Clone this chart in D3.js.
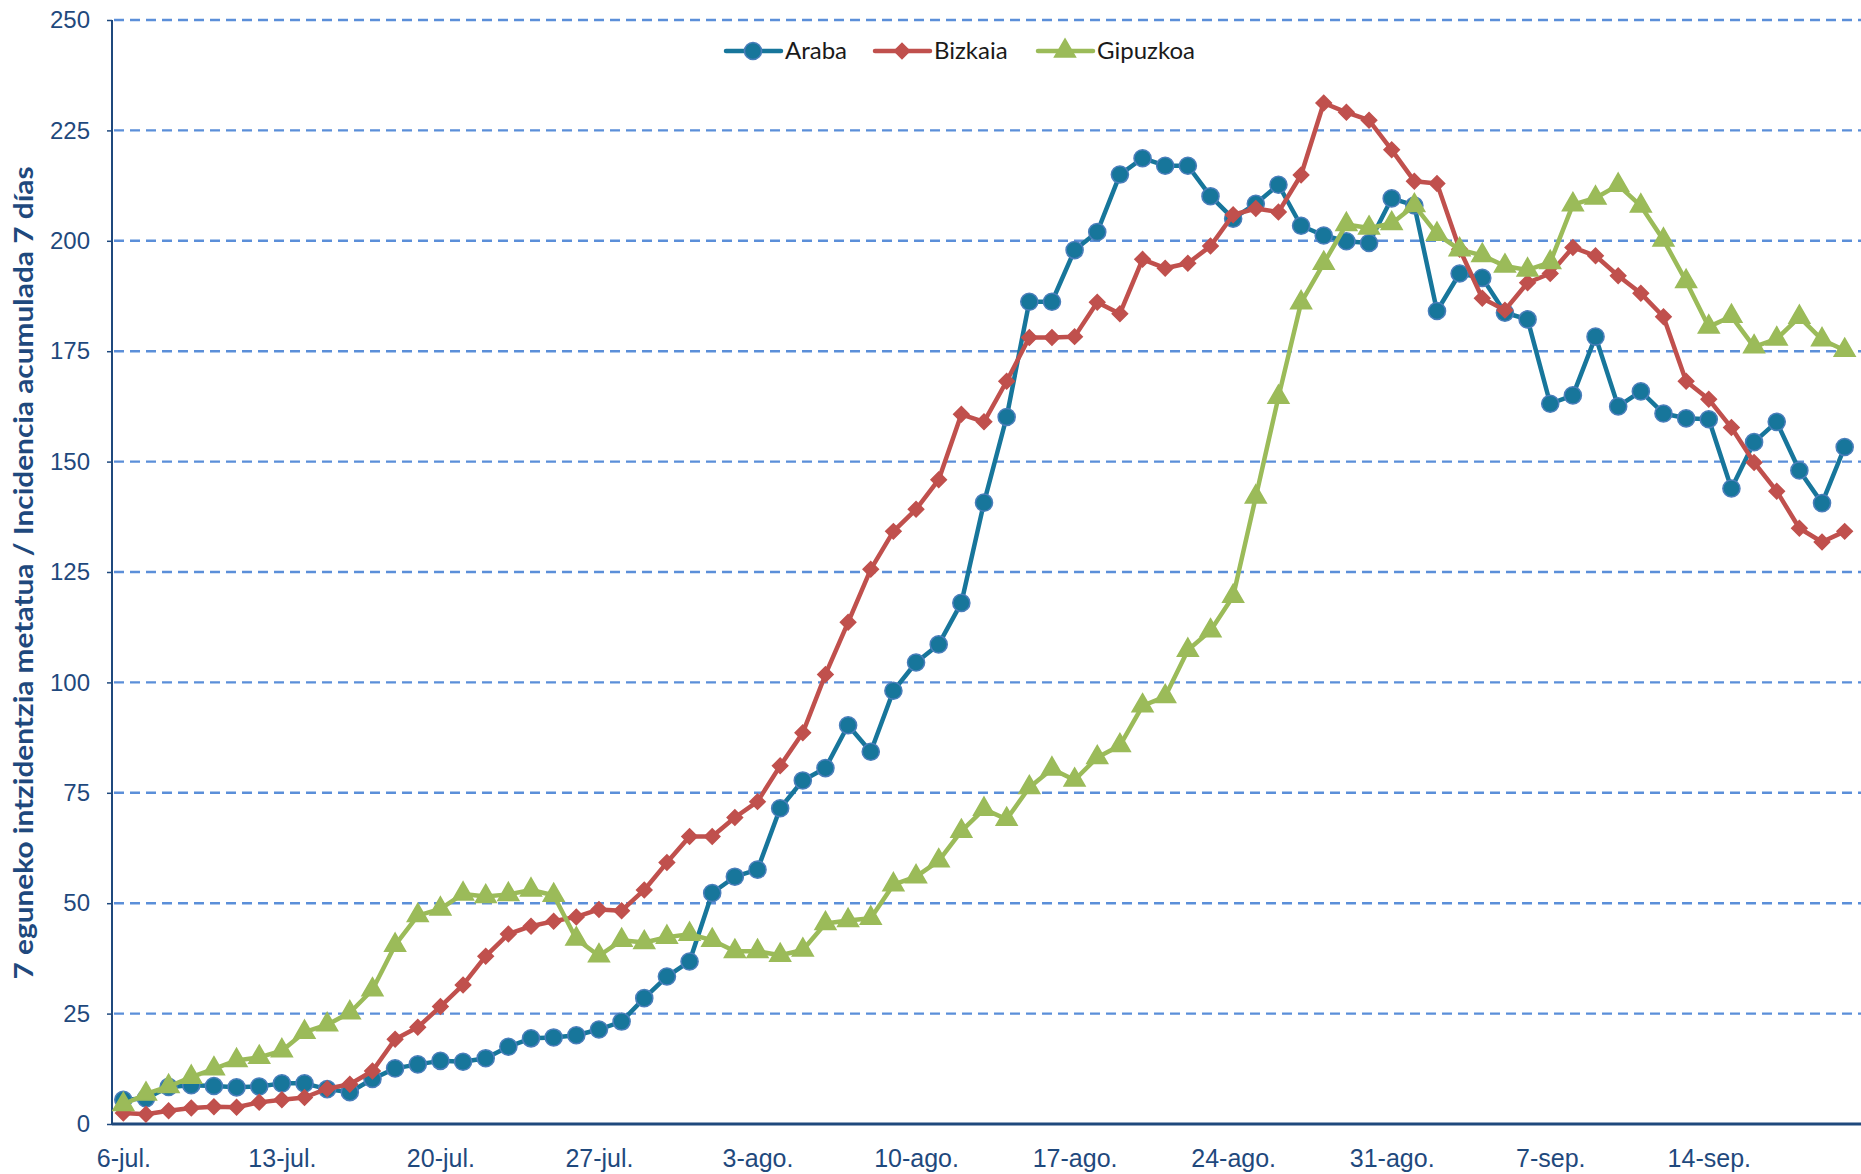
<!DOCTYPE html>
<html>
<head>
<meta charset="utf-8">
<script src="https://cdnjs.cloudflare.com/ajax/libs/d3/7.8.5/d3.min.js"></script>
<style>
	body { margin: 0; background: #fff; }
	svg { display: block; font-family: Lato, "Open Sans", sans-serif; }
</style>
</head>
<body>
<div id="chart"></div>
<script>

// one category per day, 6 July to 20 September
var categories = [
	'6-jul.','7-jul.','8-jul.','9-jul.','10-jul.','11-jul.','12-jul.','13-jul.','14-jul.','15-jul.',
	'16-jul.','17-jul.','18-jul.','19-jul.','20-jul.','21-jul.','22-jul.','23-jul.','24-jul.','25-jul.',
	'26-jul.','27-jul.','28-jul.','29-jul.','30-jul.','31-jul.','1-ago.','2-ago.','3-ago.','4-ago.',
	'5-ago.','6-ago.','7-ago.','8-ago.','9-ago.','10-ago.','11-ago.','12-ago.','13-ago.','14-ago.',
	'15-ago.','16-ago.','17-ago.','18-ago.','19-ago.','20-ago.','21-ago.','22-ago.','23-ago.','24-ago.',
	'25-ago.','26-ago.','27-ago.','28-ago.','29-ago.','30-ago.','31-ago.','1-sep.','2-sep.','3-sep.',
	'4-sep.','5-sep.','6-sep.','7-sep.','8-sep.','9-sep.','10-sep.','11-sep.','12-sep.','13-sep.',
	'14-sep.','15-sep.','16-sep.','17-sep.','18-sep.','19-sep.','20-sep.'
];

var tickLabels = ['6-jul.','13-jul.','20-jul.','27-jul.','3-ago.','10-ago.','17-ago.','24-ago.','31-ago.','7-sep.','14-sep.'];

var yTicks = [0, 25, 50, 75, 100, 125, 150, 175, 200, 225, 250];

var araba = [
	5.5, 5.8, 8.4, 8.8, 8.6, 8.3, 8.5, 9.2, 9.2, 7.9,
	7.2, 10.2, 12.6, 13.5, 14.3, 14.1, 14.9, 17.5, 19.4, 19.6,
	20.1, 21.4, 23.2, 28.5, 33.4, 36.8, 52.3, 56, 57.6, 71.5,
	77.8, 80.6, 90.3, 84.3, 98.1, 104.5, 108.6, 118, 140.7, 160.1,
	186.2, 186.2, 197.9, 202, 215, 218.7, 217, 217, 210.1, 205,
	208.4, 212.7, 203.4, 201.2, 199.9, 199.5, 209.6, 208, 184.1, 192.6,
	191.6, 183.7, 182.2, 163.1, 165, 178.3, 162.5, 165.9, 160.9, 159.8,
	159.6, 143.9, 154.4, 159, 148, 140.6, 153.3
];

var bizkaia = [
	2.5, 2.2, 3, 3.6, 3.9, 3.8, 4.9, 5.5, 6, 8,
	9, 12, 19.2, 21.9, 26.6, 31.5, 38, 43, 44.8, 45.9,
	46.9, 48.6, 48.3, 53, 59.2, 65.1, 65.1, 69.4, 73, 81.1,
	88.6, 101.8, 113.6, 125.6, 134.2, 139.2, 145.9, 160.7, 159, 168.2,
	178.1, 178.1, 178.3, 186.1, 183.5, 195.8, 193.8, 194.9, 198.8, 205.9,
	207.3, 206.5, 214.9, 231.2, 229.1, 227.3, 220.6, 213.5, 213, 198.1,
	187, 184.3, 190.5, 192.6, 198.5, 196.6, 192.1, 188.1, 182.8, 168.2,
	164.1, 157.7, 149.8, 143.3, 134.9, 131.8, 134.2
];

var gipuzkoa = [
	4.4, 6.8, 8.5, 10.6, 12.5, 14.4, 15.1, 16.6, 20.8, 22.5,
	25.2, 30.4, 40.5, 47.2, 48.7, 52.1, 51.5, 52, 53, 51.8,
	41.9, 38.1, 41.6, 41.1, 42.3, 43, 41.6, 39.1, 39.1, 38.2,
	39.4, 45.4, 46.1, 46.6, 54.2, 56, 59.6, 66.3, 71.3, 69,
	76.2, 80.4, 77.9, 83, 85.7, 94.7, 96.8, 107.3, 111.7, 119.5,
	142, 164.6, 186, 194.9, 203.7, 202.9, 203.9, 208, 201.5, 198,
	196.7, 194.3, 193.4, 195.1, 208.2, 209.7, 212.6, 207.9, 200.2, 190.8,
	180.5, 182.9, 176, 177.8, 182.7, 177.6, 175.2
];

var seriesNames = ['Araba', 'Bizkaia', 'Gipuzkoa'];

var yTitle = '7 eguneko intzidentzia metatua / Incidencia acumulada 7 días';

var width = 1861, height = 1174;
var plot = {left: 112, right: 1856, top: 20, bottom: 1124};
var axisColor = '#1F497D';

var styles = {
	Araba: {color: '#17769B', stroke: '#4A7EBB', shape: 'circle'},
	Bizkaia: {color: '#C0504D', stroke: '#C0504D', shape: 'diamond'},
	Gipuzkoa: {color: '#9BBB59', stroke: '#9BBB59', shape: 'triangle'}
};

var series = [
	{name: seriesNames[0], values: araba},
	{name: seriesNames[1], values: bizkaia},
	{name: seriesNames[2], values: gipuzkoa}
];

var x = d3.scalePoint()
	.domain(d3.range(categories.length))
	.range([plot.left, plot.right])
	.padding(0.5);

var y = d3.scaleLinear()
	.domain([0, 250])
	.range([plot.bottom, plot.top]);

var svg = d3.select('#chart').append('svg')
	.attr('width', width)
	.attr('height', height);

// dashed gridlines
svg.append('g')
	.attr('class', 'grid')
	.selectAll('line')
	.data(yTicks.filter(function(d) { return d > 0; }))
	.enter().append('line')
	.attr('x1', plot.left + 2)
	.attr('x2', width)
	.attr('y1', function(d) { return y(d); })
	.attr('y2', function(d) { return y(d); })
	.attr('stroke', '#5B8FD9')
	.attr('stroke-width', 2.4)
	.attr('stroke-dasharray', '10,6');

var yAxis = d3.axisLeft(y)
	.tickValues(yTicks)
	.tickSize(5)
	.tickPadding(17);

var yAxisG = svg.append('g')
	.attr('transform', 'translate(' + plot.left + ',0)')
	.call(yAxis);

yAxisG.select('.domain').attr('stroke', axisColor).attr('stroke-width', 2).attr('d', 'M0,' + plot.top + 'V' + plot.bottom);
yAxisG.selectAll('.tick line').attr('stroke', axisColor).attr('stroke-width', 1.5);
yAxisG.selectAll('.tick text')
	.attr('fill', axisColor)
	.style('font-size', '24px');

var tickIdx = tickLabels.map(function(l) { return categories.indexOf(l); });

var xAxis = d3.axisBottom(x)
	.tickValues(tickIdx)
	.tickSize(0)
	.tickPadding(25)
	.tickFormat(function(i) { return categories[i]; });

var xAxisG = svg.append('g')
	.attr('transform', 'translate(0,' + plot.bottom + ')')
	.call(xAxis);

xAxisG.select('.domain').attr('stroke', axisColor).attr('stroke-width', 3).attr('d', 'M' + plot.left + ',0H' + width);
xAxisG.selectAll('.tick text')
	.attr('fill', axisColor)
	.style('font-size', '25px');

// y axis title
svg.append('text')
	.attr('transform', 'translate(33,573) rotate(-90)')
	.attr('text-anchor', 'middle')
	.attr('fill', axisColor)
	.attr('textLength', 813)
	.attr('lengthAdjust', 'spacingAndGlyphs')
	.style('font-size', '27px')
	.style('font-weight', 'bold')
	.text(yTitle);

var line = d3.line()
	.x(function(d, i) { return x(i); })
	.y(function(d) { return y(d); });

function symbolPath(shape) {
	if (shape == 'circle') return d3.symbol(d3.symbolCircle, 230)();
	if (shape == 'diamond') return d3.symbol(d3.symbolSquare, 118)();
	return d3.symbol(d3.symbolTriangle, 190)();
}

series.forEach(function(s) {
	var st = styles[s.name];
	var g = svg.append('g').attr('class', 'series');

	g.append('path')
		.datum(s.values)
		.attr('fill', 'none')
		.attr('stroke', st.color)
		.attr('stroke-width', 4.5)
		.attr('stroke-linejoin', 'round')
		.attr('d', line);

	g.selectAll('path.mark')
		.data(s.values)
		.enter().append('path')
		.attr('class', 'mark')
		.attr('d', symbolPath(st.shape))
		.attr('transform', function(d, i) {
			return 'translate(' + x(i) + ',' + y(d) + ')' + (st.shape == 'diamond' ? ' rotate(45)' : '');
		})
		.attr('fill', st.color)
		.attr('stroke', st.stroke)
		.attr('stroke-width', 1.5);
});

// legend
var legendX = [726, 875, 1038];
var legend = svg.append('g').attr('class', 'legend');

series.forEach(function(s, i) {
	var st = styles[s.name];
	var lg = legend.append('g').attr('transform', 'translate(' + legendX[i] + ',51)');
	lg.append('line')
		.attr('x1', 0).attr('x2', 55)
		.attr('stroke', st.color)
		.attr('stroke-width', 4.5)
		.attr('stroke-linecap', 'round');
	lg.append('path')
		.attr('d', symbolPath(st.shape))
		.attr('transform', 'translate(27,0)' + (st.shape == 'diamond' ? ' rotate(45)' : ''))
		.attr('fill', st.color)
		.attr('stroke', st.stroke)
		.attr('stroke-width', 1.5);
	lg.append('text')
		.attr('x', 59)
		.attr('dy', '0.35em')
		.attr('fill', '#1a1a1a')
		.style('font-size', '24px')
		.text(s.name);
});

</script>
</body>
</html>
